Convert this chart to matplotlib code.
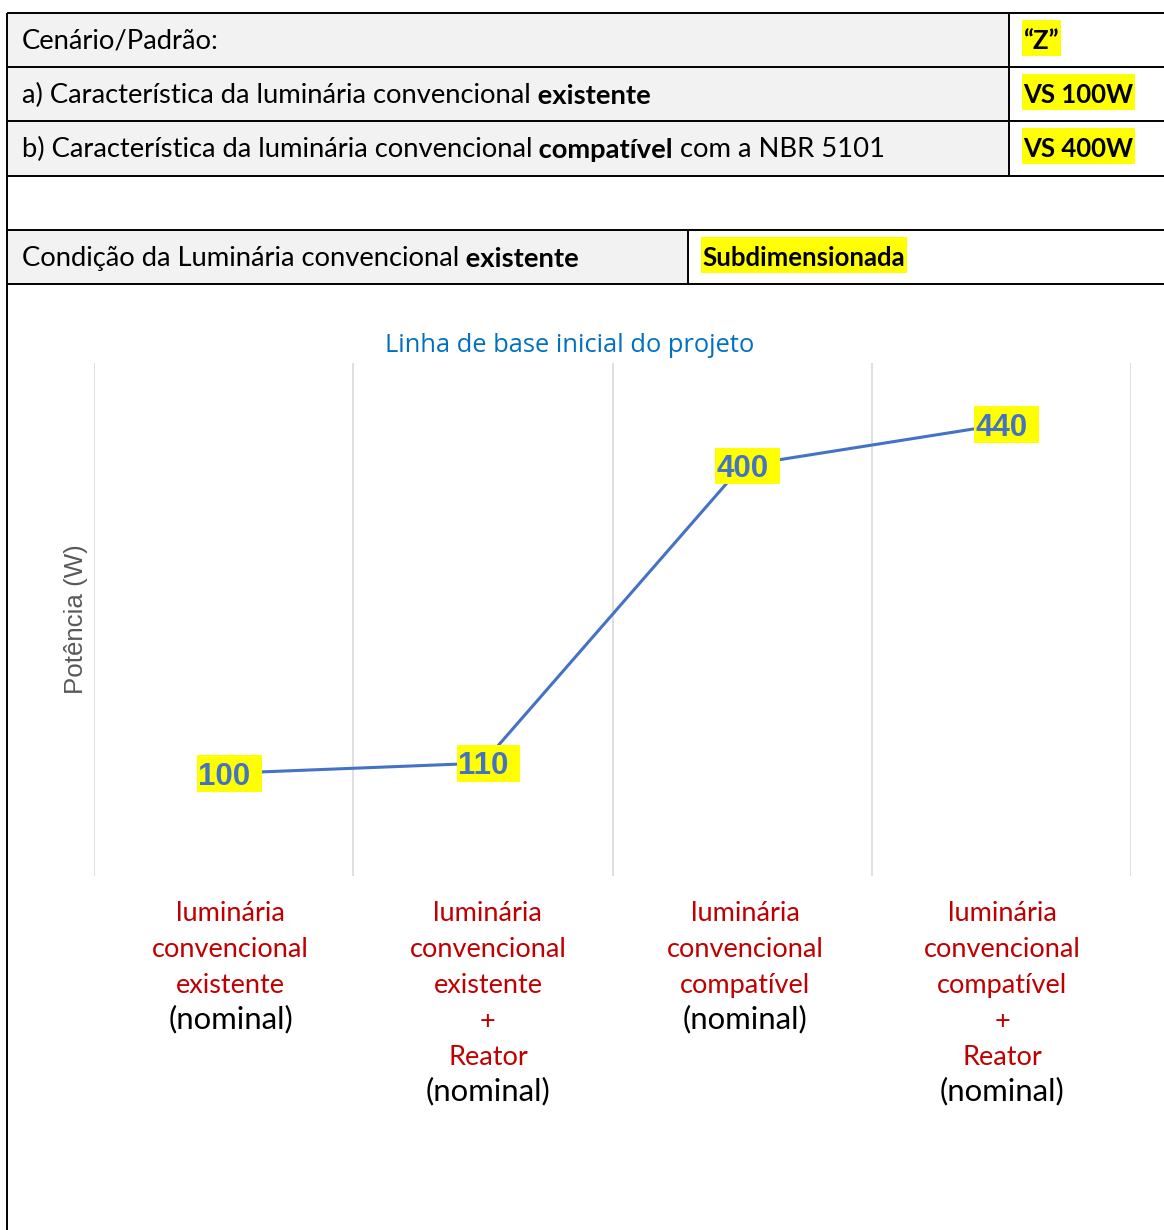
import matplotlib
matplotlib.use("Agg")
import numpy as np
import matplotlib.pyplot as plt
from matplotlib.patches import Rectangle
from matplotlib.lines import Line2D
from matplotlib.path import Path

W, H = 1164, 1230
DPI = 100
PX = 72 / DPI  # points per pixel

# ---------------- data ----------------
categories = [
    ["luminária", "convencional", "existente"],
    ["luminária", "convencional", "existente", "+", "Reator"],
    ["luminária", "convencional", "compatível"],
    ["luminária", "convencional", "compatível", "+", "Reator"],
]
category_suffix = "(nominal)"
power_w = [100, 110, 400, 440]

scenario_runs = [("Cenário/Padrão:", "normal")]
scenario_value = "“Z”"
row_a_runs = [("a) Característica da luminária convencional", "normal"),
              (" existente", "bold")]
row_a_value = "VS 100W"
row_b_runs = [("b) Característica da luminária convencional", "normal"),
              (" compatível", "bold"),
              (" com a NBR 5101", "normal")]
row_b_value = "VS 400W"
condition_runs = [("Condição da Luminária convencional", "normal"),
                  (" existente", "bold")]
condition_value = "Subdimensionada"
chart_title = "Linha de base inicial do projeto"
y_label = "Potência (W)"

# ---------------- styles ----------------
TXT_FONT = "Lato"
TXT_SIZE = 19.7
VAL_SIZE = 18.5
CAT_SIZE = 19.5
NOMINAL_SIZE = 22.4
LABEL_SIZE = 22.5
LINE_BLUE = "#4472C4"
HIGHLIGHT = "#FFFF00"
RED = "#C00000"
GRAY_FILL = "#F2F2F2"
GRID = "#D9D9D9"


def highlight(left, right, bottom, top):
    """Rectangular text background with independent paddings (fractions of font size)."""
    def style(x0, y0, width, height, mutation_size):
        l, r = left * mutation_size, right * mutation_size
        b, t = bottom * mutation_size, top * mutation_size
        verts = [(x0 - l, y0 - b), (x0 + width + r, y0 - b),
                 (x0 + width + r, y0 + height + t), (x0 - l, y0 + height + t),
                 (x0 - l, y0 - b)]
        return Path(verts, closed=True)
    return style


fig = plt.figure(figsize=(W / DPI, H / DPI), dpi=DPI)
fig.patch.set_facecolor("white")

# page frame in pixel units (table borders, shading, texts)
frame = fig.add_axes([0, 0, 1, 1])
frame.set_xlim(0, W)
frame.set_ylim(H, 0)
frame.axis("off")

frame.add_patch(Rectangle((7, 13), 1009 - 7, 176 - 13, facecolor=GRAY_FILL, edgecolor="none"))
frame.add_patch(Rectangle((7, 230), 688 - 7, 284 - 230, facecolor=GRAY_FILL, edgecolor="none"))

border_kw = dict(color="black", lw=1.4, solid_capstyle="butt")
for yy in (13, 67, 121, 176, 230, 284):
    frame.add_line(Line2D([7, W], [yy, yy], **border_kw))
frame.add_line(Line2D([7, 7], [13, H], **border_kw))
frame.add_line(Line2D([1009, 1009], [13, 176], **border_kw))
frame.add_line(Line2D([688, 688], [230, 284], **border_kw))


def draw_runs(x, baseline, runs):
    prev = None
    for text, weight in runs:
        kw = dict(fontsize=TXT_SIZE, family=TXT_FONT, fontweight=weight,
                  color="black", ha="left")
        if prev is None:
            prev = frame.text(x, baseline, text, va="baseline", **kw)
        else:
            prev = frame.annotate(text, xy=(1, 0), xycoords=prev, va="bottom", **kw)


def draw_value(x, baseline, text):
    frame.text(x, baseline, text, fontsize=VAL_SIZE, family=TXT_FONT, fontweight="bold",
               color="black", va="baseline", ha="left",
               bbox=dict(boxstyle=highlight(0.02, 0.08, 0.12, 0.35),
                         facecolor=HIGHLIGHT, edgecolor="none"))


draw_runs(22, 49, scenario_runs)
draw_runs(22, 103, row_a_runs)
draw_runs(22, 157, row_b_runs)
draw_runs(22, 266, condition_runs)
draw_value(1023, 49, scenario_value)
draw_value(1023, 103, row_a_value)
draw_value(1023, 157, row_b_value)
draw_value(702, 266, condition_value)

# ---------------- chart ----------------
ax = fig.add_axes([94 / W, 1 - 876 / H, (1131 - 94) / W, (876 - 363) / H])
ax.patch.set_alpha(0)
x = np.arange(len(power_w))
ax.set_xlim(-0.5, len(power_w) - 0.5)
ax.set_ylim(0, 500)
ax.set_xticks(np.arange(-0.5, len(power_w), 1.0))
ax.set_yticks([])
ax.grid(axis="x", color=GRID, lw=1.2)
ax.tick_params(length=0, labelbottom=False, labelleft=False)
for sp in ax.spines.values():
    sp.set_visible(False)

ax.plot(x, power_w, color=LINE_BLUE, lw=2.2, zorder=3)
for xi, v in zip(x, power_w):
    # digits centred vertically on the data point
    ax.annotate(f"{v}", xy=(xi, v), xytext=(0, -0.358 * LABEL_SIZE),
                textcoords="offset points", ha="center", va="baseline",
                fontsize=LABEL_SIZE, family="Liberation Sans", fontweight="bold",
                color=LINE_BLUE, zorder=4,
                bbox=dict(boxstyle=highlight(0.03, 0.38, 0.02, 0.2),
                          facecolor=HIGHLIGHT, edgecolor="none"))

# category labels under each column
for xi, lines in zip(x, categories):
    dx = (7 - 2 * xi) * PX
    for k, line in enumerate(lines + [category_suffix]):
        nominal = line == category_suffix
        ax.annotate(line, xy=(xi, 0), xycoords=("data", "axes fraction"),
                    xytext=(dx, -(45 + 35.9 * k) * PX), textcoords="offset points",
                    ha="center", va="baseline",
                    fontsize=NOMINAL_SIZE if nominal else CAT_SIZE, family=TXT_FONT,
                    color="black" if nominal else RED, annotation_clip=False)

fig.text(570 / W, 1 - 352 / H, chart_title, ha="center", va="baseline",
         fontsize=18.4, family="Open Sans", color="#0070C0")
fig.text(76 / W, 1 - 619.5 / H, y_label, ha="center", va="center", rotation=90,
         fontsize=18.6, family="Liberation Sans", color="#595959")

fig.savefig("out.png", dpi=DPI, facecolor="white")
